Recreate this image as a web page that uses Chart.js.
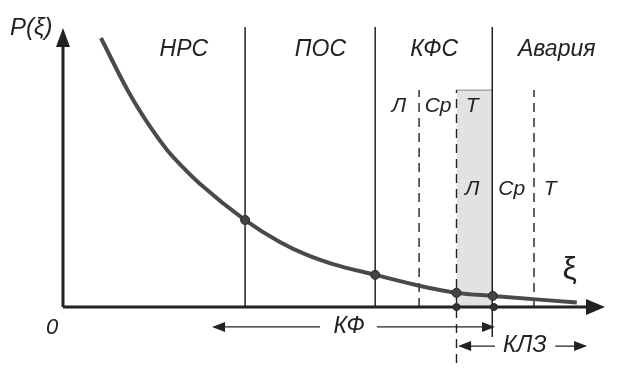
<!DOCTYPE html>
<html><head><meta charset="utf-8">
<script src="https://cdn.jsdelivr.net/npm/chart.js@4"></script>
<style>html,body{margin:0;padding:0;background:#fff}#wrap{width:639px;height:374px;position:relative}</style>
</head><body><div id="wrap"><canvas id="c"></canvas></div>
<script>
// Curve P(ξ)
const curveXi = [0.70, 1.20, 1.61, 1.92, 2.21, 2.53, 3.36, 4.00, 4.50, 4.98, 5.76, 6.59, 7.26, 7.93, 9.48];
const curveP  = [9.71, 7.80, 6.50, 5.67, 5.05, 4.44, 3.14, 2.35, 1.88, 1.55, 1.16, 0.76, 0.51, 0.40, 0.16];
// marked points on the curve
const markXi = [3.36, 5.76, 7.26, 7.93];
const markP  = [3.14, 1.16, 0.51, 0.40];
// marked points on ξ axis
const axisMarkXi = [7.26, 7.95];
// zone boundaries (solid) and sub-boundaries (dashed)
const zoneBounds = [3.36, 5.76, 7.92];
const zoneBoundBottom = [0, 0, -1.08];
const subBounds = [6.57, 7.26, 8.69];
const subBoundBottom = [0, -2.02, 0];
const boundTop = 10.11;
const subTop = 7.83;
// shaded band
const bandXi = [7.26, 7.92];
const bandTop = 7.83;
// zone names
const zoneNames = ['НРС', 'ПОС', 'КФС', 'Авария'];
const zoneCenters = [2.23, 4.75, 6.85, 9.11];
const zoneLabelY = 9.06;
// sub-levels
const levelNames = ['Л', 'Ср', 'Т'];
const levelUpperXi = [6.20, 6.92, 7.55];
const levelLowerXi = [7.55, 8.28, 8.99];
const levelUpperY = 7.04;
const levelLowerY = 4.04;
// axes extents
const xAxisEnd = 10.0;
const yAxisEnd = 10.07;

const X_MIN = -63/54.2, X_MAX = (639-63)/54.2;
const Y_MIN = -(374-307)/27.7, Y_MAX = 307/27.7;

const pts = (xs, ys) => xs.map((x, i) => ({x, y: ys[i]}));
const ink = '#222';
const FONT = '"Liberation Sans", Arial, sans-serif';

const datasets = [];
datasets.push({data: pts(bandXi, [bandTop, bandTop]), showLine: true, fill: 'origin',
  backgroundColor: '#e2e2e2', borderColor: '#8a8a8a', borderWidth: 1, pointRadius: 0, order: 10});
zoneBounds.forEach((b, i) => datasets.push({data: [{x: b, y: zoneBoundBottom[i]}, {x: b, y: boundTop}],
  showLine: true, borderColor: ink, borderWidth: 1.5, pointRadius: 0, order: 6}));
subBounds.forEach((b, i) => datasets.push({data: [{x: b, y: subBoundBottom[i]}, {x: b, y: subTop}],
  showLine: true, borderColor: ink, borderWidth: 1.4, borderDash: [9, 6], pointRadius: 0, order: 6}));
datasets.push({data: [{x: 0, y: 0}, {x: xAxisEnd - 0.25, y: 0}], showLine: true, borderColor: ink, borderWidth: 3, pointRadius: 0, order: 4});
datasets.push({data: [{x: 0, y: 0}, {x: 0, y: yAxisEnd - 0.5}], showLine: true, borderColor: ink, borderWidth: 3, pointRadius: 0, order: 4});
datasets.push({data: pts(curveXi, curveP), showLine: true, cubicInterpolationMode: 'monotone',
  borderColor: '#4a4a4a', borderWidth: 4, pointRadius: 0, borderCapStyle: 'butt', order: 2});
datasets.push({data: pts(markXi, markP), showLine: false, pointRadius: 4.5,
  backgroundColor: '#444', borderColor: '#2a2a2a', borderWidth: 1, order: 1});
datasets.push({data: axisMarkXi.map(x => ({x, y: 0})), showLine: false, pointRadius: 3.5,
  backgroundColor: '#333', borderColor: '#222', borderWidth: 1, order: 0});

function arrowHead(ctx, x, y, dir, len, hw) {
  ctx.beginPath();
  if (dir === 'up') { ctx.moveTo(x, y); ctx.lineTo(x - hw, y + len); ctx.lineTo(x + hw, y + len); }
  else if (dir === 'right') { ctx.moveTo(x, y); ctx.lineTo(x - len, y - hw); ctx.lineTo(x - len, y + hw); }
  else { ctx.moveTo(x, y); ctx.lineTo(x + len, y - hw); ctx.lineTo(x + len, y + hw); }
  ctx.closePath(); ctx.fill();
}

const dimArrows = [
  {y: -0.72, l: 2.75, le: 4.74, rs: 5.79, r: 7.97, label: 'КФ', lx: 5.28},
  {y: -1.41, l: 7.29, le: 7.97, rs: 9.08, r: 9.67, label: 'КЛЗ', lx: 8.52}
];

const decor = {
  id: 'decor',
  afterDatasetsDraw(chart) {
    const {ctx, scales: {x, y}} = chart;
    const px = v => x.getPixelForValue(v), py = v => y.getPixelForValue(v);
    ctx.save();
    ctx.fillStyle = ink; ctx.strokeStyle = ink;
    arrowHead(ctx, px(0), py(yAxisEnd), 'up', 19, 7);
    arrowHead(ctx, px(xAxisEnd), py(0), 'right', 19, 8);
    ctx.lineWidth = 1.3;
    dimArrows.forEach(a => {
      ctx.beginPath();
      ctx.moveTo(px(a.l) + 6, py(a.y)); ctx.lineTo(px(a.le), py(a.y));
      ctx.moveTo(px(a.rs), py(a.y)); ctx.lineTo(px(a.r) - 6, py(a.y));
      ctx.stroke();
      arrowHead(ctx, px(a.l), py(a.y), 'left', 13, 5);
      arrowHead(ctx, px(a.r), py(a.y), 'right', 13, 5);
      ctx.font = 'italic 23px ' + FONT;
      ctx.textAlign = 'center'; ctx.textBaseline = 'middle';
      ctx.fillText(a.label, px(a.lx), py(a.y));
    });
    ctx.textBaseline = 'alphabetic'; ctx.textAlign = 'center';
    ctx.font = 'italic 23px ' + FONT;
    zoneNames.forEach((n, i) => ctx.fillText(n, px(zoneCenters[i]), py(zoneLabelY)));
    ctx.font = 'italic 21px ' + FONT;
    levelNames.forEach((n, i) => {
      ctx.fillText(n, px(levelUpperXi[i]), py(levelUpperY));
      ctx.fillText(n, px(levelLowerXi[i]), py(levelLowerY));
    });
    ctx.textAlign = 'left';
    ctx.font = 'italic 24px ' + FONT;
    ctx.fillText('P(ξ)', px(-0.98), py(9.82));
    ctx.textAlign = 'center'; ctx.textBaseline = 'middle';
    ctx.font = '32px ' + FONT;
    ctx.fillText('ξ', px(9.35), py(1.34));
    ctx.font = 'italic 22px ' + FONT;
    ctx.fillText('0', px(-0.2), py(-0.76));
    ctx.restore();
  }
};

new Chart(document.getElementById('c'), {
  type: 'scatter',
  data: {datasets},
  options: {
    animation: false, responsive: true, maintainAspectRatio: false,
    layout: {padding: 0, autoPadding: false},
    plugins: {legend: {display: false}, tooltip: {enabled: false}},
    scales: {
      x: {type: 'linear', display: false, min: X_MIN, max: X_MAX},
      y: {type: 'linear', display: false, min: Y_MIN, max: Y_MAX}
    }
  },
  plugins: [decor]
});
</script></body></html>
